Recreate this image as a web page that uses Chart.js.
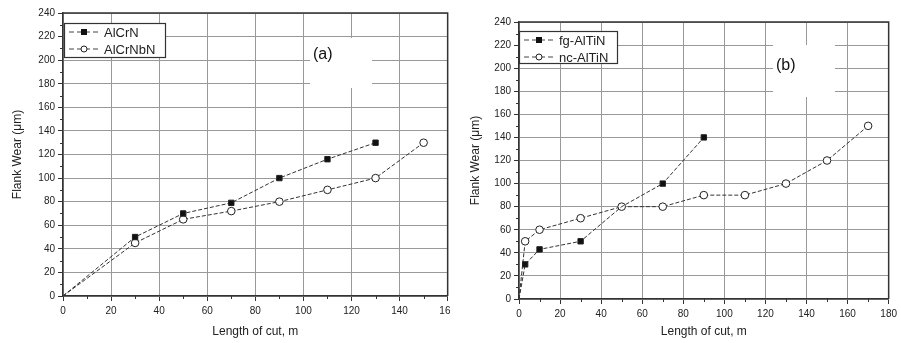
<!DOCTYPE html>
<html lang="en">
<head>
  <meta charset="UTF-8" />
  <title>Flank wear vs length of cut</title>
  <script src="https://cdn.jsdelivr.net/npm/chart.js"></script>
  <style>
    * { box-sizing: border-box; }
    body { margin: 0; background: #fff; width: 901px; height: 343px; overflow: hidden; position: relative; }
    .panel { position: absolute; top: 0; height: 343px; overflow: hidden; }
    #wrapA { left: 0; width: 450px; }
    #wrapB { left: 450px; width: 451px; }
  </style>
</head>
<body>

  <div class="panel" id="wrapA"><canvas id="chartA" width="460" height="343" style="width:460px;height:343px"></canvas></div>
  <div class="panel" id="wrapB"><canvas id="chartB" width="451" height="343" style="width:451px;height:343px"></canvas></div>

  <script>
    // panel (a)
    const alcrnX   = [0, 30, 50, 70, 90, 110, 130];
    const alcrnY   = [0, 50, 70, 79, 100, 116, 130];
    const alcrnbnX = [0, 30, 50, 70, 90, 110, 130, 150];
    const alcrnbnY = [0, 45, 65, 72, 80, 90, 100, 130];

    // panel (b)
    const fgX = [0, 3, 10, 30, 50, 70, 90];
    const fgY = [0, 30, 43, 50, 80, 100, 140];
    const ncX = [0, 3, 10, 30, 50, 70, 90, 110, 130, 150, 170];
    const ncY = [0, 50, 60, 70, 80, 80, 90, 90, 100, 120, 150];

    const yTicks = [0, 20, 40, 60, 80, 100, 120, 140, 160, 180, 200, 220, 240];

    const FONT = '"Liberation Sans", Arial, sans-serif';
    const INK = '#333';

    function pts(xs, ys) {
      return xs.map((x, i) => ({ x: x, y: ys[i] }));
    }

    // no markers at the origin
    function radii(xs, hide) {
      return xs.map((x, i) => (x === 0 || (hide && hide.includes(i))) ? 0 : 3.8);
    }

    const decor = {
      id: 'decor',
      beforeDatasetsDraw(chart, args, opts) {
        const ctx = chart.ctx;
        // white patch behind the panel letter
        ctx.save();
        ctx.fillStyle = '#fff';
        ctx.fillRect(opts.patch[0], opts.patch[1], opts.patch[2], opts.patch[3]);
        ctx.restore();
      },
      afterDraw(chart, args, opts) {
        const ctx = chart.ctx;
        const a = chart.chartArea;
        const xs = chart.scales.x, ys = chart.scales.y;
        ctx.save();
        // frame top and right
        ctx.strokeStyle = INK;
        ctx.lineWidth = 1.5;
        ctx.beginPath();
        ctx.moveTo(a.left, a.top);
        ctx.lineTo(a.right, a.top);
        ctx.lineTo(a.right, a.bottom);
        ctx.stroke();

        // minor ticks
        ctx.lineWidth = 1;
        ctx.beginPath();
        for (let v = 10; v < xs.max; v += 20) {
          const px = Math.round(xs.getPixelForValue(v)) + 0.5;
          ctx.moveTo(px, a.bottom);
          ctx.lineTo(px, a.bottom + 3);
        }
        for (let v = 10; v < ys.max; v += 20) {
          const py = Math.round(ys.getPixelForValue(v)) + 0.5;
          ctx.moveTo(a.left - 3, py);
          ctx.lineTo(a.left, py);
        }
        ctx.stroke();

        // legend box
        const L = opts.legend;
        ctx.fillStyle = '#fff';
        ctx.fillRect(L.x, L.y, L.w, L.h);
        ctx.strokeStyle = INK;
        ctx.lineWidth = 1.2;
        ctx.strokeRect(L.x + 0.5, L.y + 0.5, L.w, L.h);
        chart.data.datasets.forEach((ds, i) => {
          const cy = L.y + L.row0 + i * L.rowGap;
          ctx.strokeStyle = '#444';
          ctx.lineWidth = 1;
          ctx.setLineDash([5, 3]);
          ctx.beginPath();
          ctx.moveTo(L.x + 5, cy);
          ctx.lineTo(L.x + 35, cy);
          ctx.stroke();
          ctx.setLineDash([]);
          const mx = L.x + 20;
          ctx.fillStyle = ds.pointBackgroundColor;
          ctx.strokeStyle = '#222';
          if (ds.pointStyle === 'rect') {
            ctx.fillRect(mx - 3, cy - 3, 6, 6);
          } else {
            ctx.beginPath();
            ctx.arc(mx, cy, 3, 0, Math.PI * 2);
            ctx.fill();
            ctx.stroke();
          }
          ctx.fillStyle = '#222';
          ctx.font = '13px ' + FONT;
          ctx.textBaseline = 'middle';
          ctx.textAlign = 'left';
          ctx.fillText(ds.label, L.x + 40, cy + 1);
        });

        // panel letter
        ctx.fillStyle = '#111';
        ctx.font = '16px ' + FONT;
        ctx.textBaseline = 'middle';
        ctx.textAlign = 'left';
        ctx.fillText(opts.letter, opts.letterX, opts.letterY);
        ctx.restore();
      }
    };

    function series(label, xs, ys, filled, hide) {
      return {
        label: label,
        data: pts(xs, ys),
        borderColor: '#333',
        borderWidth: 1,
        borderDash: [4, 2],
        pointStyle: filled ? 'rect' : 'circle',
        pointRadius: radii(xs, hide),
        pointBackgroundColor: filled ? '#111' : '#fff',
        pointBorderColor: '#222',
        pointBorderWidth: 1,
        tension: 0
      };
    }

    function makeChart(id, datasets, cfg) {
      return new Chart(document.getElementById(id), {
        type: 'line',
        data: { datasets: datasets },
        options: {
          responsive: false,
          animation: false,
          devicePixelRatio: 1,
          layout: { padding: { top: cfg.top, right: cfg.right, left: 0, bottom: 0 } },
          plugins: {
            legend: { display: false },
            tooltip: { enabled: false },
            decor: cfg.decor
          },
          scales: {
            x: {
              type: 'linear',
              min: 0,
              max: cfg.xMax,
              afterBuildTicks: s => { s.ticks = []; for (let v = 0; v <= cfg.xMax; v += 20) s.ticks.push({ value: v }); },
              afterFit: s => { s.height = cfg.xH; },
              grid: { color: '#999', lineWidth: 1, tickLength: 5, tickColor: INK },
              border: { color: INK, width: 1.5 },
              ticks: { color: '#222', font: { family: FONT, size: 10 }, padding: 4, maxRotation: 0 },
              title: { display: true, text: 'Length of cut, m', color: '#222', font: { family: FONT, size: 12 }, padding: { top: 0, bottom: 4 } }
            },
            y: {
              type: 'linear',
              min: 0,
              max: 240,
              afterBuildTicks: s => { s.ticks = yTicks.map(v => ({ value: v })); },
              afterFit: s => { s.width = cfg.yW; },
              grid: { color: '#999', lineWidth: 1, tickLength: 5, tickColor: INK },
              border: { color: INK, width: 1.5 },
              ticks: { color: '#222', font: { family: FONT, size: 10 }, padding: 3 },
              title: { display: true, text: 'Flank Wear (\u03bcm)', color: '#222', font: { family: FONT, size: 12 }, padding: { top: cfg.yTitlePad, bottom: 0 } }
            }
          }
        },
        plugins: [decor]
      });
    }

    makeChart('chartA', [
      series('AlCrN', alcrnX, alcrnY, true),
      series('AlCrNbN', alcrnbnX, alcrnbnY, false)
    ], {
      top: 13, right: 11, xMax: 160, xH: 47, yW: 63, yTitlePad: 10,
      decor: {
        patch: [310, 38, 62, 50],
        letter: '(a)', letterX: 313, letterY: 55,
        legend: { x: 64, y: 23, w: 101, h: 34, row0: 9, rowGap: 17 }
      }
    });

    makeChart('chartB', [
      series('fg-AlTiN', fgX, fgY, true, [4]),
      series('nc-AlTiN', ncX, ncY, false)
    ], {
      top: 22, right: 5, xMax: 180, xH: 44, yW: 69, yTitlePad: 18,
      decor: {
        patch: [323, 45, 62, 52],
        letter: '(b)', letterX: 326, letterY: 66,
        legend: { x: 69, y: 31, w: 98, h: 32, row0: 9, rowGap: 17 }
      }
    });
  </script>

</body>
</html>
